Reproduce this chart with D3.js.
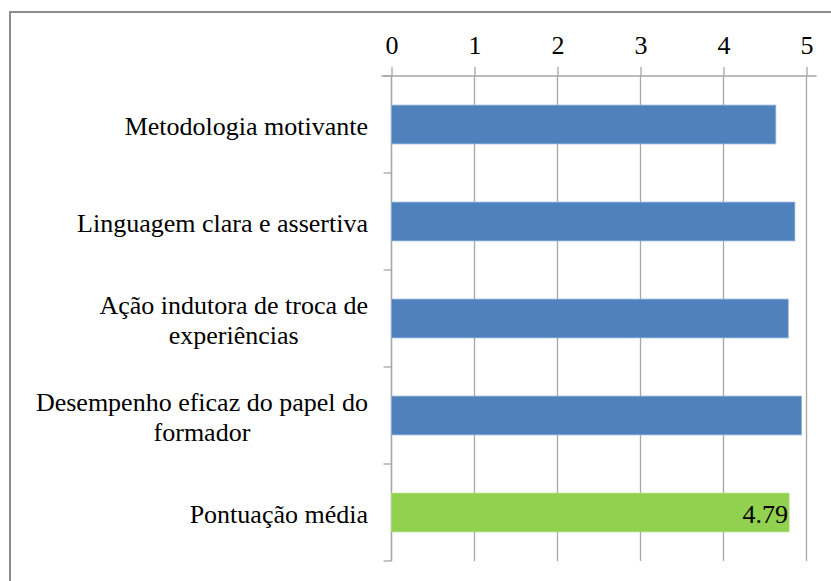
<!DOCTYPE html>
<html><head><meta charset="utf-8">
<script src="https://cdn.jsdelivr.net/npm/d3@7"></script>
</head><body style="margin:0">
<script>
const categories = [
  ["Metodologia motivante"],
  ["Linguagem clara e assertiva"],
  ["Ação indutora de troca de", "experiências"],
  ["Desempenho eficaz do papel do", "formador"],
  ["Pontuação média"]
];
const values = [4.63, 4.86, 4.78, 4.94, 4.79];
const colors = ["#4F81BD", "#4F81BD", "#4F81BD", "#4F81BD", "#92D050"];
const dataLabels = [null, null, null, null, "4.79"];
const tickValues = [0, 1, 2, 3, 4, 5];

(function () {
const W = 831, H = 581;
const svg = d3.select("body").append("svg").attr("width", W).attr("height", H)
  .style("display", "block").style("font-family", "\"Liberation Serif\"");
const fs = 26;
const setFont = sel => sel.style("font-family", "\"Liberation Serif\"").style("font-size", fs + "px");

// outer frame
svg.append("rect").attr("x", 10).attr("y", 12).attr("width", W).attr("height", H)
  .attr("fill", "#fff").attr("stroke", "#8c8c8c").attr("stroke-width", 2);

const pLeft = 391.5, pRight = 806.5, pTop = 76, pBottom = 561;
const x = d3.scaleLinear().domain([0, 5]).range([pLeft, pRight]);
const y = d3.scaleBand().domain(d3.range(categories.length)).range([pTop, pBottom]).paddingInner(0.6).paddingOuter(0.3);

// gridlines
svg.append("g").selectAll("line").data(tickValues).join("line")
  .attr("x1", d => x(d)).attr("x2", d => x(d)).attr("y1", pTop).attr("y2", pBottom)
  .attr("stroke", "#a6a6a6").attr("stroke-width", 1.3);

// top axis
const ax = svg.append("g").attr("transform", `translate(0,${pTop})`)
  .call(d3.axisTop(x).tickValues(tickValues).tickSize(9).tickPadding(13).tickFormat(d3.format("d")));
ax.attr("font-family", null).attr("font-size", null);
ax.select(".domain").attr("stroke", "#a6a6a6").attr("stroke-width", 1.3).attr("d", `M${pLeft-10},0H${pRight+10}`);
ax.selectAll(".tick line").attr("stroke", "#a6a6a6").attr("stroke-width", 1.3);
ax.selectAll(".tick text").call(setFont).attr("fill", "#000");

// left axis line + ticks at band boundaries
const step = (pBottom - pTop) / categories.length;
svg.append("line").attr("x1", pLeft).attr("x2", pLeft).attr("y1", pTop).attr("y2", pBottom)
  .attr("stroke", "#a6a6a6").attr("stroke-width", 1.3);
svg.append("g").selectAll("line").data(d3.range(categories.length + 1)).join("line")
  .attr("x1", pLeft - 8).attr("x2", pLeft).attr("y1", d => pTop + d * step).attr("y2", d => pTop + d * step)
  .attr("stroke", "#a6a6a6").attr("stroke-width", 1.3);

// bars
svg.append("g").selectAll("rect").data(values).join("rect")
  .attr("x", x(0)).attr("y", (d, i) => y(i))
  .attr("width", d => x(d) - x(0)).attr("height", y.bandwidth())
  .attr("fill", (d, i) => colors[i])
  .attr("stroke", (d, i) => i < 4 ? "#8fb0d8" : "#a9dc7a").attr("stroke-width", 0.8);

// data labels
svg.append("g").selectAll("text").data(values.map((v, i) => ({v, i})).filter(d => dataLabels[d.i])).join("text")
  .attr("x", d => x(d.v) - 1).attr("y", d => y(d.i) + y.bandwidth() / 2 + 10)
  .attr("text-anchor", "end").call(setFont).attr("fill", "#000")
  .text(d => dataLabels[d.i]);

// category labels
const labelRight = 368, lineH = 30;
categories.forEach((lines, i) => {
  const cy = y(i) + y.bandwidth() / 2;
  const texts = lines.map((s, k) => svg.append("text")
    .call(setFont).attr("fill", "#000")
    .attr("text-anchor", "middle")
    .attr("y", cy + 10 + (k - (lines.length - 1) / 2) * lineH).text(s));
  const maxW = d3.max(texts, t => t.node().getComputedTextLength());
  texts.forEach(t => t.attr("x", labelRight - maxW / 2));
});
})();
</script>
</body></html>
